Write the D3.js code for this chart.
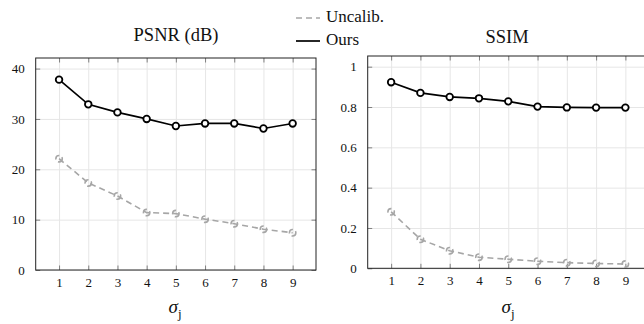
<!DOCTYPE html>
<html>
<head>
<meta charset="utf-8">
<script src="https://cdn.jsdelivr.net/npm/d3@7"></script>
</head>
<body style="margin:0">
<svg id="chart" width="644" height="324"></svg>
<script>
// sigma_j values on the x axis
const sigma = [1, 2, 3, 4, 5, 6, 7, 8, 9];

// PSNR (dB)
const psnrOurs = [37.8, 32.9, 31.3, 30.0, 28.6, 29.1, 29.1, 28.1, 29.1];
const psnrUncalib = [22.1, 17.3, 14.7, 11.4, 11.2, 10.1, 9.2, 8.1, 7.4];

// SSIM
const ssimOurs = [0.923, 0.87, 0.85, 0.843, 0.828, 0.802, 0.798, 0.797, 0.797];
const ssimUncalib = [0.28, 0.144, 0.087, 0.055, 0.045, 0.035, 0.028, 0.024, 0.021];

const psnrTicks = [0, 10, 20, 30, 40];
const ssimTicks = [0, 0.2, 0.4, 0.6, 0.8, 1];

const FONT = "Liberation Serif";
const svg = d3.select("#chart");

const panels = [
  { title: "PSNR (dB)", titleX: 176, titleY: 41, left: 35.7, right: 316, top: 58, bottom: 270,
    ymax: 42.1, yticks: psnrTicks, fmt: d3.format("d"), ours: psnrOurs, uncalib: psnrUncalib },
  { title: "SSIM", titleX: 507, titleY: 43, left: 367.7, right: 648.8, top: 56, bottom: 268.3,
    ymax: 1.053, yticks: ssimTicks, fmt: d => (d === 0 || d === 1) ? String(d) : d3.format(".1f")(d),
    ours: ssimOurs, uncalib: ssimUncalib }
];

panels.forEach(p => {
  const x = d3.scaleLinear().domain([0.2, 9.8]).range([p.left, p.right]);
  const y = d3.scaleLinear().domain([0, p.ymax]).range([p.bottom, p.top]);
  const w = p.right - p.left, h = p.bottom - p.top;
  const g = svg.append("g");

  // grid
  g.append("g")
    .attr("transform", "translate(0," + p.bottom + ")")
    .call(d3.axisBottom(x).tickValues(sigma).tickSize(-h).tickFormat(""))
    .call(a => a.select(".domain").remove())
    .selectAll("line").attr("stroke", "#e6e6e6").attr("stroke-width", 1);
  g.append("g")
    .attr("transform", "translate(" + p.left + ",0)")
    .call(d3.axisLeft(y).tickValues(p.yticks).tickSize(-w).tickFormat(""))
    .call(a => a.select(".domain").remove())
    .selectAll("line").attr("stroke", "#e6e6e6").attr("stroke-width", 1);

  // inward tick marks on all four sides
  const tickLen = 4.5;
  [[d3.axisBottom(x).tickValues(sigma), "translate(0," + p.bottom + ")"],
   [d3.axisTop(x).tickValues(sigma), "translate(0," + p.top + ")"],
   [d3.axisLeft(y).tickValues(p.yticks), "translate(" + p.left + ",0)"],
   [d3.axisRight(y).tickValues(p.yticks), "translate(" + p.right + ",0)"]]
    .forEach(([ax, tr]) => {
      g.append("g").attr("transform", tr)
        .call(ax.tickSize(-tickLen).tickFormat(""))
        .call(a => a.select(".domain").remove())
        .selectAll("line").attr("stroke", "#808080").attr("stroke-width", 1);
    });

  // tick labels
  g.append("g")
    .attr("transform", "translate(0," + p.bottom + ")")
    .call(d3.axisBottom(x).tickValues(sigma).tickSize(0).tickPadding(0))
    .call(a => a.select(".domain").remove())
    .selectAll("text")
    .attr("y", 17).attr("dy", 0);
  g.append("g")
    .attr("transform", "translate(" + p.left + ",0)")
    .call(d3.axisLeft(y).tickValues(p.yticks).tickSize(0).tickPadding(11).tickFormat(p.fmt))
    .call(a => a.select(".domain").remove());
  g.selectAll(".tick text")
    .attr("fill", "#111")
    .attr("font-family", FONT)
    .attr("font-size", 13);

  // frame
  g.append("rect")
    .attr("x", p.left).attr("y", p.top).attr("width", w).attr("height", h)
    .attr("fill", "none").attr("stroke", "#222").attr("stroke-width", 1);

  const line = d3.line().x((d, i) => x(sigma[i])).y(d => y(d));

  // Uncalib. (dashed gray)
  g.append("path")
    .datum(p.uncalib)
    .attr("d", line)
    .attr("fill", "none").attr("stroke", "#a6a6a6").attr("stroke-width", 1.6)
    .attr("stroke-dasharray", "6,4");
  g.selectAll("circle.unc").data(p.uncalib).join("circle")
    .attr("class", "unc")
    .attr("cx", (d, i) => x(sigma[i])).attr("cy", d => y(d)).attr("r", 3.2)
    .attr("fill", "none").attr("stroke", "#a6a6a6").attr("stroke-width", 1.6)
    .attr("stroke-dasharray", "6,3");

  // Ours (solid black)
  g.append("path")
    .datum(p.ours)
    .attr("d", line)
    .attr("fill", "none").attr("stroke", "#000").attr("stroke-width", 1.7);
  g.selectAll("circle.ours").data(p.ours).join("circle")
    .attr("class", "ours")
    .attr("cx", (d, i) => x(sigma[i])).attr("cy", d => y(d)).attr("r", 3.3)
    .attr("fill", "#fff").attr("stroke", "#000").attr("stroke-width", 1.8);

  // title
  svg.append("text")
    .attr("x", p.titleX).attr("y", p.titleY)
    .attr("text-anchor", "middle")
    .attr("font-family", FONT)
    .attr("font-size", 18.5)
    .attr("fill", "#111")
    .text(p.title);

  // x label: sigma_j
  const xl = svg.append("text")
    .attr("x", p.left > 300 ? 508 : 175)
    .attr("y", 313)
    .attr("text-anchor", "middle")
    .attr("font-family", FONT)
    .attr("font-size", 19)
    .attr("fill", "#111");
  xl.append("tspan").attr("font-style", "italic").text("σ");
  xl.append("tspan").attr("dy", 5).attr("font-size", 13).text("j");
});

// legend
const legend = svg.append("g").attr("font-family", FONT).attr("font-size", 17).attr("fill", "#111");
legend.append("line")
  .attr("x1", 296).attr("x2", 320).attr("y1", 18).attr("y2", 18)
  .attr("stroke", "#a6a6a6").attr("stroke-width", 1.6).attr("stroke-dasharray", "6,4");
legend.append("text").attr("x", 326).attr("y", 22).text("Uncalib.");
legend.append("line")
  .attr("x1", 296).attr("x2", 320).attr("y1", 41).attr("y2", 41)
  .attr("stroke", "#000").attr("stroke-width", 1.7);
legend.append("text").attr("x", 326).attr("y", 45).text("Ours");
</script>
</body>
</html>
